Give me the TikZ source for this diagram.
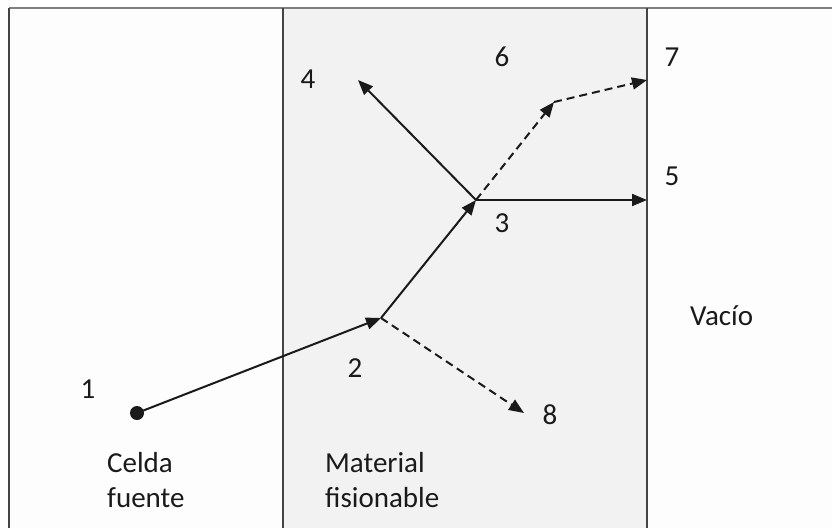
\documentclass[tikz,border=0pt]{standalone}
\usepackage{fontspec}
\setmainfont{Carlito}
\usetikzlibrary{arrows.meta}
\definecolor{band}{HTML}{F2F2F2}
\definecolor{outer}{HTML}{FDFDFD}
\definecolor{ink}{HTML}{1A1A1A}
\definecolor{frame}{HTML}{444444}
\tikzset{
  lbl/.style={font=\fontsize{29}{35}\selectfont, text=ink, inner sep=0pt, anchor=base},
  txt/.style={font=\fontsize{29}{35}\selectfont, text=ink, inner sep=0pt, anchor=base west},
  ray/.style={draw=ink, line width=2pt, -{Triangle[length=15pt,width=12pt]}},
  dray/.style={ray, dash pattern=on 8pt off 5pt},
  border/.style={draw=frame, line width=2.5pt}
}
\begin{document}
\begin{tikzpicture}[x=1pt,y=-1pt]
\useasboundingbox (0,0) rectangle (832,528);
\fill[white] (0,0) rectangle (832,528);
\fill[outer] (9,8) rectangle (832,528);
\fill[band] (283,8) rectangle (647,528);
\draw[draw=gray, line width=2pt] (9,8) -- (832,8);
\draw[border] (9,8) -- (9,528);
\draw[border] (283,8) -- (283,528);
\draw[border] (647,8) -- (647,528);

% points
\coordinate (p1) at (137,413);
\coordinate (p2) at (381,318);
\coordinate (p3) at (476,200);
\coordinate (p4) at (358,80);
\coordinate (p5) at (647,200);
\coordinate (p6) at (554,102);
\coordinate (p7) at (647,80);
\coordinate (p8) at (524,413);

\fill[ink] (p1) circle (7pt);
\draw[ray] (p1) -- (p2);
\draw[ray] (p2) -- (p3);
\draw[ray] (p3) -- (p4);
\draw[ray] (p3) -- (p5);
\draw[dray] (p3) -- (p6);
\draw[dray] (p6) -- (p7);
\draw[dray] (p2) -- (p8);

% labels
\node[lbl] (l1) at (88,398) {1};
\node[lbl] (l2) at (355,377) {2};
\node[lbl] (l3) at (502,232) {3};
\node[lbl] (l4) at (308,88) {4};
\node[lbl] (l5) at (672,185) {5};
\node[lbl] (l6) at (502,66) {6};
\node[lbl] (l7) at (672,66) {7};
\node[lbl] (l8) at (550,424) {8};

\node[txt] (c1) at (107,472) {Celda};
\node[txt] (c2) at (107,507) {fuente};
\node[txt] (m1) at (325,472) {Material};
\node[txt] (m2) at (325,507) {fisionable};
\node[txt] (v1) at (690,325) {Vacío};
\end{tikzpicture}
\end{document}
